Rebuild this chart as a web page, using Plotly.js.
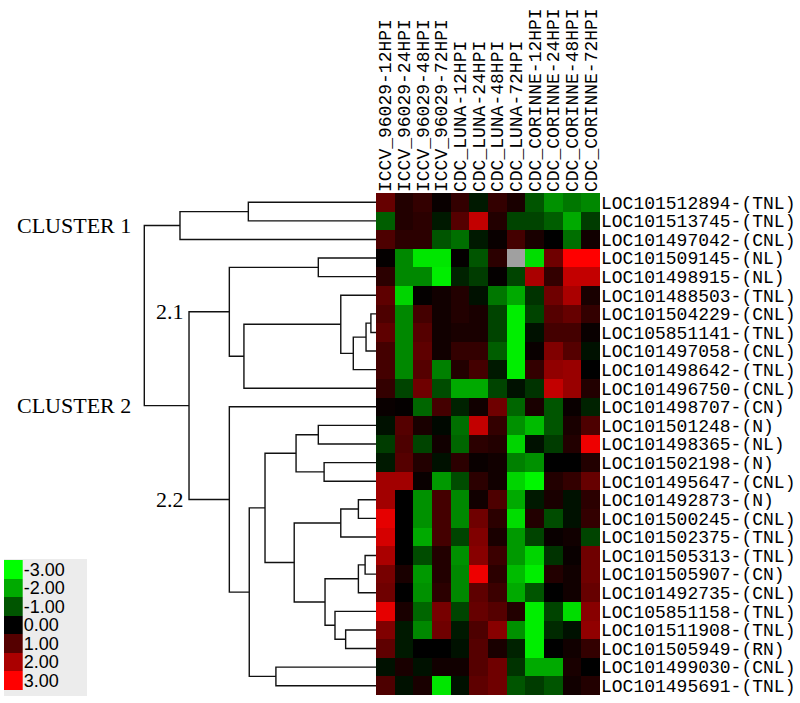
<!DOCTYPE html>
<html>
<head>
<meta charset="utf-8">
<script src="https://cdn.plot.ly/plotly-3.0.1.min.js"></script>
<style>body{margin:0;background:#fff}</style>
</head>
<body>
<div id="chart" style="width:800px;height:703px"></div>
<script>
const samples = ['ICCV_96029-12HPI', 'ICCV_96029-24HPI', 'ICCV_96029-48HPI', 'ICCV_96029-72HPI',
  'CDC_LUNA-12HPI', 'CDC_LUNA-24HPI', 'CDC_LUNA-48HPI', 'CDC_LUNA-72HPI',
  'CDC_CORINNE-12HPI', 'CDC_CORINNE-24HPI', 'CDC_CORINNE-48HPI', 'CDC_CORINNE-72HPI'];

const genes = ['LOC101512894-(TNL)', 'LOC101513745-(TNL)', 'LOC101497042-(CNL)', 'LOC101509145-(NL)',
  'LOC101498915-(NL)', 'LOC101488503-(TNL)', 'LOC101504229-(CNL)', 'LOC105851141-(TNL)',
  'LOC101497058-(CNL)', 'LOC101498642-(TNL)', 'LOC101496750-(CNL)', 'LOC101498707-(CN)',
  'LOC101501248-(N)', 'LOC101498365-(NL)', 'LOC101502198-(N)', 'LOC101495647-(CNL)',
  'LOC101492873-(N)', 'LOC101500245-(CNL)', 'LOC101502375-(TNL)', 'LOC101505313-(TNL)',
  'LOC101505907-(CN)', 'LOC101492735-(CNL)', 'LOC105851158-(TNL)', 'LOC101511908-(TNL)',
  'LOC101505949-(RN)', 'LOC101499030-(CNL)', 'LOC101495691-(TNL)'];

// log2 fold change, one row per gene, one value per sample (null = missing)
const expression = [
  [1.2, 0.4, 0.6, 0.1, 0.6, -0.3, 0.6, 0.3, -1.0, -1.7, -1.4, -1.6],
  [-1.1, 0.4, 0.5, -0.3, 1.0, 2.3, 0.4, -0.8, -0.8, -1.1, -2.0, -0.7],
  [0.9, 0.5, 0.5, -1.0, -1.3, -0.3, 0.1, 0.8, 0.3, 0.0, -1.3, 0.2],
  [0.05, -1.6, -2.7, -2.7, 0.05, -1.0, 0.5, null, -2.6, 1.3, 3.0, 3.0],
  [0.5, -1.6, -1.6, -2.8, -0.4, -0.7, 0.05, -0.8, 2.0, 0.6, 2.3, 2.3],
  [1.1, -2.5, 0.05, 0.2, 0.4, -0.2, -1.4, -2.0, -0.6, 1.3, 2.0, 0.3],
  [0.9, -1.6, 0.8, 0.2, 0.4, 0.3, -0.8, -2.8, -0.8, 1.0, 1.2, 0.6],
  [1.1, -1.6, 1.0, 0.2, 0.3, 0.3, -0.8, -2.8, -0.2, 0.8, 0.8, 0.1],
  [0.8, -1.6, 1.1, 0.2, 0.6, 0.6, -1.1, -2.8, 0.1, 1.5, 1.0, -0.2],
  [0.8, -1.6, 1.0, -1.5, 0.4, 0.8, -0.3, -2.8, 0.6, 1.7, 1.8, 0.0],
  [0.6, -0.8, 1.3, -0.9, -2.0, -2.0, -0.8, -0.2, -0.6, 2.3, 1.8, 0.4],
  [0.1, 0.05, -1.2, 0.8, -0.4, 0.2, 1.3, -1.2, 0.3, -1.0, 0.1, -0.4],
  [-0.2, 1.0, 0.3, -0.1, -1.3, 2.3, 0.6, -1.7, -2.2, -1.0, 0.3, 0.9],
  [-0.7, 0.9, -0.8, 0.2, -1.2, 0.5, 0.4, -2.5, -0.2, -0.7, 0.4, 2.8],
  [-0.3, 1.0, 0.4, -0.2, 0.5, 0.1, 0.2, -1.5, -1.7, 0.0, 0.0, 0.4],
  [1.9, 1.9, 0.1, -1.8, -0.9, 0.5, 0.2, -2.5, -2.9, 0.4, 0.6, 1.2],
  [1.9, 0.0, -1.7, 0.8, -1.6, 0.2, 0.9, -2.0, -0.3, 0.3, -0.2, 0.5],
  [2.7, 0.0, -1.7, 0.8, -1.6, 1.3, 0.5, -2.6, 0.4, -0.9, -0.2, 0.6],
  [2.5, 0.0, -2.0, 0.8, -0.8, 1.5, 0.3, -1.8, -0.8, 0.1, 0.2, -0.8],
  [2.0, 0.0, -0.9, 0.4, -1.7, 1.6, 0.7, -1.8, -2.5, -0.6, 0.1, 1.3],
  [1.4, 0.3, -1.8, 0.4, -1.6, 2.8, 0.5, -2.2, -2.8, 0.4, 0.2, 1.3],
  [1.3, 0.0, -1.7, 0.5, -1.6, 1.1, 0.7, -2.0, -1.0, 0.0, 0.2, 1.2],
  [2.7, 0.3, -1.2, 1.4, -0.8, 1.2, 1.0, 0.4, -2.8, -0.8, -2.6, 1.6],
  [1.5, -0.3, -1.6, 1.3, -0.3, 0.9, 1.6, -1.7, -2.8, -0.5, -0.2, 1.7],
  [1.1, -0.3, 0.0, 0.0, -0.2, 1.0, 0.3, -0.4, -2.8, 0.0, 0.2, 0.6],
  [-0.2, 0.3, -0.2, 0.2, 0.2, 1.0, 1.3, -0.6, -2.0, -2.0, 0.3, 0.0],
  [0.9, -0.2, 0.3, -2.7, -0.2, 1.1, 1.3, -1.0, -0.7, -1.0, 0.2, 0.4]
];

const legendLevels = [-3, -2, -1, 0, 1, 2, 3];

// hierarchical clustering of the rows: [child, child, distance]
// numbers are row indices, 'N<k>' is the k-th merge of this list
const merges = [
  [0, 1, 0.551], ['N0', 2, 0.846],
  [3, 4, 0.249], [6, 7, 0.022], ['N3', 8, 0.043], ['N4', 9, 0.098],
  [5, 'N5', 0.152], ['N6', 10, 0.570], ['N2', 'N7', 0.633],
  [12, 13, 0.249], [14, 15, 0.224], ['N9', 'N10', 0.345],
  [16, 17, 0.076], ['N12', 18, 0.152], [19, 20, 0.047], ['N14', 21, 0.076],
  [23, 24, 0.131], [22, 'N16', 0.177], ['N15', 'N17', 0.220], ['N13', 'N18', 0.353],
  ['N11', 'N19', 0.479], [25, 26, 0.432], ['N20', 'N21', 0.547],
  [11, 'N22', 0.633], ['N8', 'N23', 0.807], ['N1', 'N24', 1.0]
];

const clusterLabels = [['CLUSTER 1', 'N1', 'N25'], ['CLUSTER 2', 'N24', 'N25'], ['2.1', 'N8', 'N24'], ['2.2', 'N23', 'N24']];

// dendrogram segments
const pos = {};
const dx = [], dy = [];
function place(c) {
  if (typeof c === 'number') return {y: c, d: 0};
  return pos[c];
}
merges.forEach(([a, b, d], k) => {
  const A = place(a), B = place(b);
  dx.push(A.d, d, d, B.d, null);
  dy.push(A.y, A.y, B.y, B.y, null);
  pos['N' + k] = {y: (A.y + B.y) / 2, d: d};
});

const missing = expression.map(r => r.map(v => v === null ? 1 : null));
const mono = '"Courier New", "Liberation Mono", monospace';

const data = [
  {type: 'heatmap', z: expression, x: samples.map((s, i) => i), y: genes.map((g, i) => i),
   zmin: -3, zmax: 3, showscale: false, hoverongaps: false,
   colorscale: [[0, '#00ff00'], [0.5, '#000000'], [1, '#ff0000']]},
  {type: 'heatmap', z: missing, x: samples.map((s, i) => i), y: genes.map((g, i) => i),
   showscale: false, hoverongaps: false, colorscale: [[0, '#a0a0a0'], [1, '#a0a0a0']]},
  {type: 'scatter', mode: 'lines', x: dx, y: dy, xaxis: 'x2', yaxis: 'y',
   line: {color: '#111', width: 1.4}, hoverinfo: 'skip'},
  {type: 'heatmap', z: legendLevels.map(v => [v]), x: [0], y: legendLevels.map((v, i) => i),
   xaxis: 'x3', yaxis: 'y3', zmin: -3, zmax: 3, showscale: false,
   colorscale: [[0, '#00ff00'], [0.5, '#000000'], [1, '#ff0000']]}
];

const W = 600, plotTop = 193, H = 502;
const layout = {
  width: 800, height: 703,
  margin: {l: 0, r: 200, t: plotTop, b: 703 - plotTop - H},
  paper_bgcolor: '#fff', plot_bgcolor: 'rgba(0,0,0,0)',
  showlegend: false,
  xaxis: {domain: [376 / W, 1], range: [-0.5, 11.5], side: 'top', tickangle: -90,
    tickvals: samples.map((s, i) => i), ticktext: samples, ticks: '', ticklabelstandoff: 0,
    showgrid: false, zeroline: false, showline: false,
    tickfont: {family: mono, size: 18, color: '#000'}},
  yaxis: {domain: [0, 1], range: [26.5, -0.5], side: 'right', anchor: 'x',
    tickvals: genes.map((g, i) => i), ticktext: genes, ticks: '', ticklabelstandoff: 0,
    showgrid: false, zeroline: false, showline: false,
    tickfont: {family: mono, size: 18, color: '#000'}},
  xaxis2: {domain: [0, 376 / W], range: [376 / 231.7, 0], anchor: 'y',
    visible: false, showgrid: false, zeroline: false},
  xaxis3: {domain: [4 / W, 22.7 / W], range: [-0.5, 0.5], anchor: 'y3', visible: false},
  yaxis3: {domain: [(695 - 690) / H, (695 - 560) / H], range: [6.5, -0.5], anchor: 'x3', side: 'right',
    tickvals: legendLevels.map((v, i) => i), ticktext: legendLevels.map(v => v.toFixed(2)),
    ticks: '', ticklabelstandoff: 0, showgrid: false, zeroline: false, showline: false,
    tickfont: {family: 'Arial, "Liberation Sans", sans-serif', size: 18, color: '#000'}},
  shapes: [{type: 'rect', xref: 'paper', yref: 'paper', layer: 'below',
    x0: 4 / W, x1: 87 / W, y0: (695 - 696) / H, y1: (695 - 559) / H,
    fillcolor: '#ececec', line: {width: 0}}],
  annotations: clusterLabels.map(([t, node, parent]) => ({
    text: t, xref: 'x2', yref: 'y', x: pos[parent].d, y: pos[node].y,
    xanchor: 'right', yanchor: 'middle', xshift: t.startsWith('CLUSTER') ? -11 : -3, showarrow: false,
    font: {family: '"Times New Roman", "Liberation Serif", serif', size: 22, color: '#000'}
  }))
};

Plotly.newPlot('chart', data, layout, {displayModeBar: false, staticPlot: true});
</script>
</body>
</html>
